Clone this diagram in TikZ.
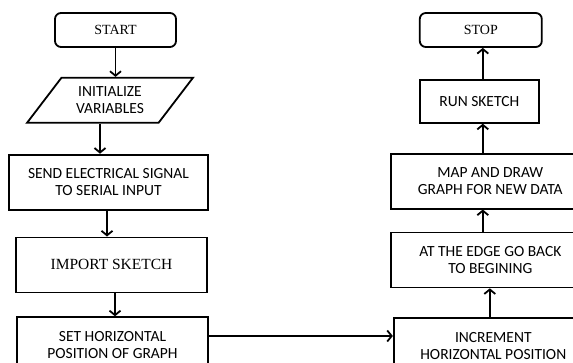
\documentclass[tikz,border=0pt]{standalone}
\usepackage{fontspec}
\setmainfont{Liberation Serif}
\setsansfont{Carlito}
\usetikzlibrary{arrows.meta, positioning, shapes.geometric}

\tikzset{
    % one line width for boxes and arrows
    base_width/.style={line width=1.8pt},
    terminal/.style={
        rectangle,
        draw=black,
        base_width,
        rounded corners=6pt,
        minimum width=121pt,
        minimum height=34pt,
        align=center,
        font=\rmfamily\fontsize{14}{17}\selectfont
    },
    io/.style={
        trapezium,
        trapezium left angle=52,
        trapezium right angle=128,
        trapezium stretches=true,
        draw=black,
        base_width,
        minimum width=166pt,
        minimum height=45pt,
        align=center,
        font=\sffamily\fontsize{15.5}{17}\selectfont
    },
    stepbox/.style={
        rectangle,
        draw=black,
        base_width,
        minimum width=199pt,
        minimum height=55pt,
        align=center,
        font=\sffamily\fontsize{15.5}{17}\selectfont
    },
    serifbox/.style={
        font=\rmfamily\fontsize{15.5}{17}\selectfont
    },
    arrow/.style={
        -{Straight Barb[length=4.5pt, width=11pt]},
        draw=black,
        base_width
    }
}

\begin{document}
\begin{tikzpicture}[x=1pt, y=1pt, node distance=29pt]
    \useasboundingbox (0,0) rectangle (573,-363);

    % --- LEFT COLUMN ---
    \node[terminal] (start) at (115.5,-30) {START};
    \node[io, below=29pt of start, xshift=-5.5pt] (init) {INITIALIZE\\VARIABLES};
    \node[stepbox, below=30pt of init, xshift=-1.5pt] (send) {SEND ELECTRICAL SIGNAL\\TO SERIAL INPUT};
    \node[stepbox, serifbox, minimum width=191pt, below=26pt of send, xshift=3pt] (import) {IMPORT SKETCH};
    \node[stepbox, minimum width=191pt, below=23pt of import, xshift=1pt] (sethoriz) {SET HORIZONTAL\\POSITION OF GRAPH};

    % --- RIGHT COLUMN ---
    \node[stepbox, right=184pt of sethoriz, yshift=-1pt] (incr) {INCREMENT\\HORIZONTAL POSITION};
    \node[stepbox, above=29pt of incr, xshift=-3pt] (edge) {AT THE EDGE GO BACK\\TO BEGINING};
    \node[stepbox, above=22pt of edge] (mapdraw) {MAP AND DRAW\\GRAPH FOR NEW DATA};
    \node[stepbox, minimum width=119pt, minimum height=43pt, above=29pt of mapdraw, xshift=-11pt] (run) {RUN SKETCH};
    \node[terminal, minimum width=122pt, above=31pt of run, xshift=1.5pt] (stop) {STOP};

    % --- CONNECTIONS ---
    \draw[arrow] (start.south) -- (start.south |- init.north);
    \draw[arrow] ([xshift=-10pt]init.south) -- ([xshift=-8.5pt]send.north);
    \draw[arrow] ([xshift=-1.5pt]send.south) -- ([xshift=-4.5pt]import.north);
    \draw[arrow] ([xshift=3.5pt]import.south) -- ([xshift=2.5pt]sethoriz.north);
    \draw[arrow] (sethoriz.east |- 0,-336) -- (incr.west |- 0,-336);
    \draw[arrow] ([xshift=-3.5pt]incr.north) -- ([xshift=-0.5pt]edge.south);
    \draw[arrow] ([xshift=-7.5pt]edge.north) -- ([xshift=-7.5pt]mapdraw.south);
    \draw[arrow] ([xshift=-7.5pt]mapdraw.north) -- ([xshift=3.5pt]run.south);
    \draw[arrow] ([xshift=3.5pt]run.north) -- ([xshift=2pt]stop.south);

\end{tikzpicture}
\end{document}
